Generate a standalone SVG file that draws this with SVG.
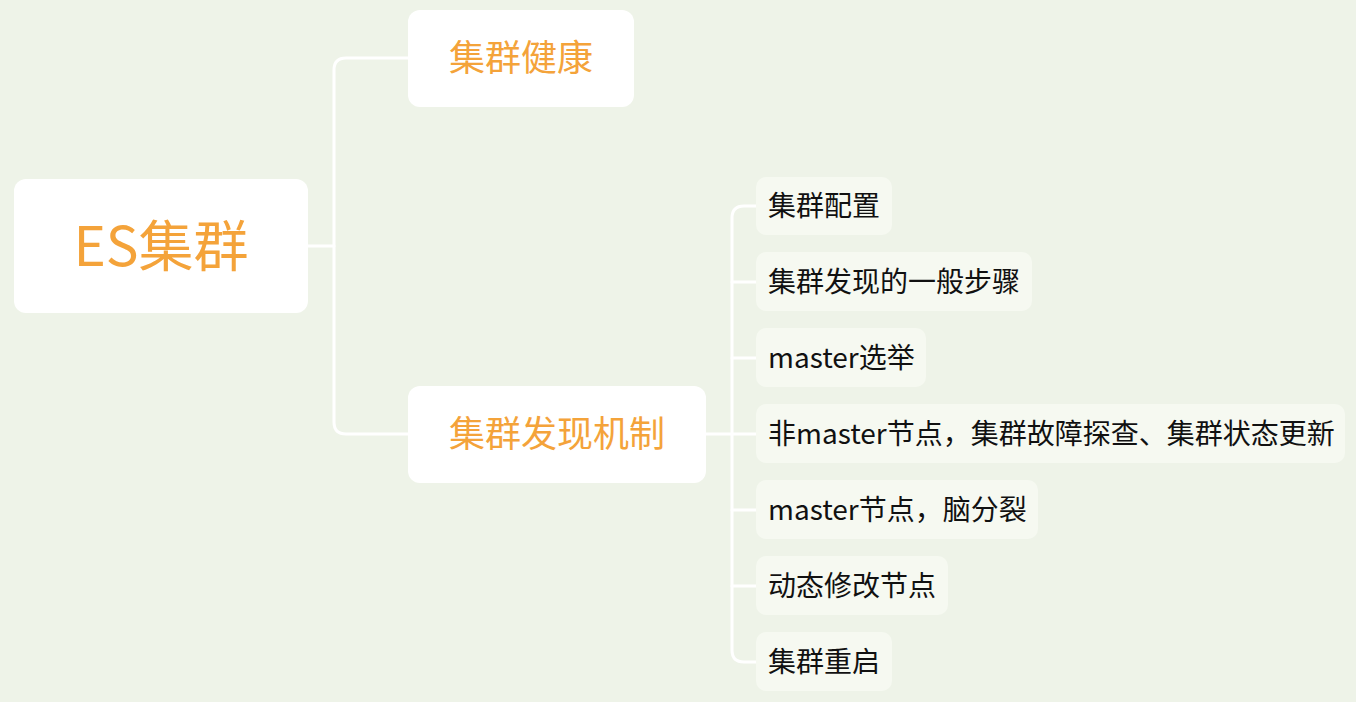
<svg xmlns="http://www.w3.org/2000/svg" width="1356" height="702" viewBox="0 0 1356 702">
<style>
.bg{fill:#eef3e8}
.main{fill:#ffffff}
.leaf{fill:#f6f9f1}
.ot{fill:#f4a33a;font-family:"Noto Sans CJK SC","Noto Sans",sans-serif}
.lt{fill:#111111;font-family:"Noto Sans CJK SC","Noto Sans",sans-serif;font-size:28px}
.conn{fill:none;stroke:#ffffff;stroke-width:3;stroke-linecap:round}
</style>
<rect class="bg" x="0" y="0" width="1356" height="702"/>
<g id="connectors">
<path class="conn" d="M308 246 H334"/>
<path class="conn" d="M408 58 H346 Q334 58 334 70 V422 Q334 434 346 434 H408"/>
<path class="conn" d="M706 434 H756"/>
<path class="conn" d="M756 206 H744 Q732 206 732 218 V650 Q732 662 744 662 H756"/>
<path class="conn" d="M732 282 H756"/>
<path class="conn" d="M732 358 H756"/>
<path class="conn" d="M732 510 H756"/>
<path class="conn" d="M732 586 H756"/>
</g>
<g id="root">
<rect class="main" x="14" y="179" width="294" height="134" rx="12"/>
<text class="ot" x="161" y="266" font-size="55" text-anchor="middle">ES集群</text>
</g>
<g id="n-health">
<rect class="main" x="408" y="10" width="226" height="97" rx="12"/>
<text class="ot" x="521" y="71" font-size="36" text-anchor="middle">集群健康</text>
</g>
<g id="n-discovery">
<rect class="main" x="408" y="386" width="298" height="97" rx="12"/>
<text class="ot" x="557" y="447" font-size="36" text-anchor="middle">集群发现机制</text>
</g>
<g id="leaf1">
<rect class="leaf" x="756" y="177" width="136" height="58" rx="10"/>
<text class="lt" x="768" y="216">集群配置</text>
</g>
<g id="leaf2">
<rect class="leaf" x="756" y="252" width="276" height="59" rx="10"/>
<text class="lt" x="768" y="292">集群发现的一般步骤</text>
</g>
<g id="leaf3">
<rect class="leaf" x="756" y="328" width="170" height="59" rx="10"/>
<text class="lt" x="768" y="368">master选举</text>
</g>
<g id="leaf4">
<rect class="leaf" x="756" y="404" width="589" height="59" rx="10"/>
<text class="lt" x="768" y="444">非master节点，集群故障探查、集群状态更新</text>
</g>
<g id="leaf5">
<rect class="leaf" x="756" y="480" width="282" height="59" rx="10"/>
<text class="lt" x="768" y="520">master节点，脑分裂</text>
</g>
<g id="leaf6">
<rect class="leaf" x="756" y="556" width="192" height="59" rx="10"/>
<text class="lt" x="768" y="596">动态修改节点</text>
</g>
<g id="leaf7">
<rect class="leaf" x="756" y="632" width="136" height="59" rx="10"/>
<text class="lt" x="768" y="672">集群重启</text>
</g>
</svg>
